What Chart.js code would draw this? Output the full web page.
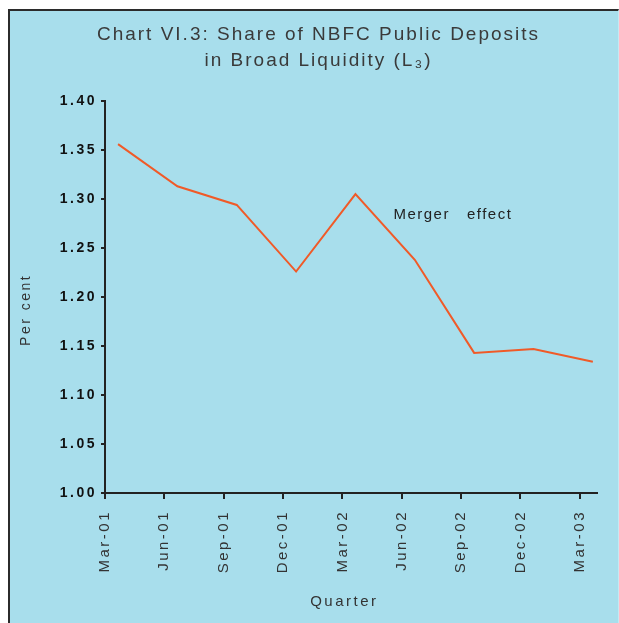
<!DOCTYPE html>
<html><head><meta charset="utf-8">
<script src="https://cdn.jsdelivr.net/npm/chart.js@4/dist/chart.umd.min.js"></script>
<style>
html,body{margin:0;padding:0;background:#fff;width:619px;height:623px;overflow:hidden}
#frame{position:absolute;left:8px;top:9px;width:608px;height:612px;background:#a8deec;border-left:2px solid #2b2b2b;border-top:2px solid #2b2b2b;border-right:1px solid #c3e9f3}
#wrap{position:absolute;left:0;top:0;width:619px;height:623px}
</style></head><body>
<div id="frame"></div>
<div id="wrap"><canvas id="c" width="619" height="623"></canvas></div>
<script>
// ---- data ----
const quarters = ['Mar-01','Jun-01','Sep-01','Dec-01','Mar-02','Jun-02','Sep-02','Dec-02','Mar-03'];
const sharePct = [1.356, 1.313, 1.294, 1.226, 1.305, 1.238, 1.143, 1.147, 1.134];
const yTicks = [1.00, 1.05, 1.10, 1.15, 1.20, 1.25, 1.30, 1.35, 1.40];
const titleLines = ['Chart VI.3: Share of NBFC Public Deposits', 'in Broad Liquidity (L\u2083)'];
const annotationText = 'Merger   effect';

// ---- style / layout ----
const TICK_SHIFT = 0.22;           // category tick marks sit slightly left of the points
const annotationPos = {x: 4.64, y: 1.284};

Chart.defaults.font.family = '"Liberation Sans", Arial, sans-serif';

const spacingPlugin = {
  id: 'spacing',
  beforeDraw(chart) { chart.ctx.letterSpacing = '2px'; }        // title
};
const annotationPlugin = {
  id: 'annot',
  afterDatasetsDraw(chart) {
    const {ctx, scales: {x, y}} = chart;
    ctx.save();
    ctx.letterSpacing = '1.5px';
    ctx.font = '15px "Liberation Sans", Arial, sans-serif';
    ctx.fillStyle = '#222';
    ctx.textAlign = 'left';
    ctx.textBaseline = 'middle';
    ctx.fillText(annotationText, x.getPixelForValue(annotationPos.x), y.getPixelForValue(annotationPos.y));
    ctx.restore();
    ctx.letterSpacing = '2.5px';                                   // axes
  }
};

new Chart(document.getElementById('c'), {
  type: 'line',
  data: {
    datasets: [{
      data: sharePct.map((v, i) => ({x: i, y: v})),
      borderColor: '#f05a28',
      borderWidth: 2,
      pointRadius: 0,
      tension: 0,
      fill: false
    }]
  },
  options: {
    responsive: false,
    animation: false,
    layout: {padding: {left: 40, right: 22, top: 10, bottom: 0}},
    plugins: {
      legend: {display: false},
      tooltip: {enabled: false},
      title: {
        display: true,
        text: titleLines,
        color: '#3a3a3a',
        font: {size: 19, weight: 'normal', lineHeight: 1.37},
        padding: {top: 12, bottom: 27}
      }
    },
    scales: {
      x: {
        type: 'linear',
        min: -TICK_SHIFT,
        max: 8.07,
        afterBuildTicks: s => { s.ticks = quarters.map((q, i) => ({value: i - TICK_SHIFT})); },
        afterFit: s => { s.height = 130; },
        ticks: {
          z: 1,
          autoSkip: false,
          minRotation: 90,
          maxRotation: 90,
          padding: 11,
          color: '#333',
          font: {size: 15},
          callback: v => quarters[Math.round(v + TICK_SHIFT)]
        },
        grid: {z: 1, drawOnChartArea: false, drawTicks: true, tickLength: 6, color: '#222', lineWidth: 2},
        border: {z: 1, display: true, color: '#222', width: 2},
        title: {display: true, text: 'Quarter  ', color: '#333', font: {size: 15}, padding: {top: 0, bottom: 12}}
      },
      y: {
        min: 1.0,
        max: 1.4,
        afterBuildTicks: s => { s.ticks = yTicks.map(v => ({value: v})); },
        afterFit: s => { s.width = 65; },
        ticks: {
          z: 1,
          padding: 4,
          color: '#111',
          font: {size: 14, weight: 'bold'},
          callback: v => v.toFixed(2)
        },
        grid: {z: 1, drawOnChartArea: false, drawTicks: true, tickLength: 4, color: '#222', lineWidth: 2},
        border: {z: 1, display: true, color: '#222', width: 2},
        title: {display: true, text: 'Per cent    ', color: '#333', font: {size: 14}, padding: {top: -22, bottom: 0}}
      }
    }
  },
  plugins: [spacingPlugin, annotationPlugin]
});
</script>
</body></html>
